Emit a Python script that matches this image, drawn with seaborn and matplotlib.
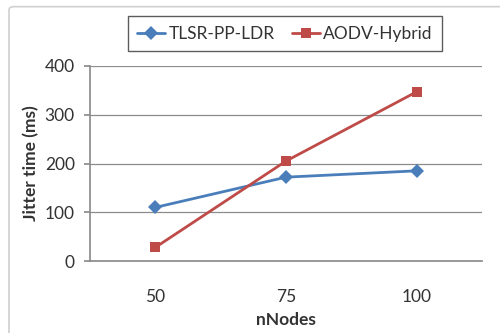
import matplotlib
matplotlib.use("Agg")
import matplotlib.pyplot as plt
import seaborn as sns
import pandas as pd
from matplotlib.patches import FancyBboxPatch

nodes = ["50", "75", "100"]
tlsr = [110, 172, 185]
aodv = [28, 205, 347]

df = pd.DataFrame({
    "nNodes": nodes * 2,
    "jitter": tlsr + aodv,
    "protocol": ["TLSR-PP-LDR"] * 3 + ["AODV-Hybrid"] * 3,
})

sns.set_theme(style="white")
plt.rcParams["font.family"] = ["Lato", "DejaVu Sans"]

fig = plt.figure(figsize=(5, 3.33), dpi=100)
ax = fig.add_axes([0.18, 0.216, 0.784, 0.586])

fig.patches.append(FancyBboxPatch((0.018, -0.02), 1.0, 1.0, boxstyle="round,pad=0,rounding_size=0.01",
                                  transform=fig.transFigure, fill=False, edgecolor="#d0d0d0", linewidth=1.2))

sns.lineplot(data=df, x="nNodes", y="jitter", hue="protocol", style="protocol",
             markers={"TLSR-PP-LDR": "D", "AODV-Hybrid": "s"}, dashes=False,
             palette={"TLSR-PP-LDR": "#4a7ebb", "AODV-Hybrid": "#be4b48"},
             markersize=7, linewidth=2, markeredgewidth=0, ax=ax)

ax.set_xlim(-0.5, 2.5)
ax.set_ylim(0, 400)
ax.set_yticks([0, 100, 200, 300, 400])
ax.yaxis.grid(True, color="#8c8c8c", linewidth=0.9)
ax.set_axisbelow(True)
for s in ["top", "right"]:
    ax.spines[s].set_visible(False)
ax.spines["left"].set_color("#8c8c8c")
ax.spines["bottom"].set_color("#8c8c8c")
ax.tick_params(axis="y", left=True, length=4, color="#8c8c8c", labelsize=12.5, labelcolor="#333333", pad=7)
ax.tick_params(axis="x", bottom=False, labelsize=12.5, labelcolor="#333333", pad=14)
ax.set_xlabel("nNodes", fontsize=12.5, fontweight="bold", color="#333333", labelpad=5)
ax.set_ylabel("Jitter time (ms)", fontsize=12.5, fontweight="bold", color="#333333", labelpad=4)

leg = ax.legend(loc="lower center", bbox_to_anchor=(0.497, 1.03), ncol=2, frameon=True, fancybox=False,
                fontsize=12.5, handlelength=1.6, columnspacing=1.0, borderpad=0.55, handletextpad=0.2)
leg.get_frame().set_edgecolor("#333333")
leg.get_frame().set_linewidth(1.0)
for t in leg.get_texts():
    t.set_color("#333333")

fig.savefig("out.png", dpi=100)
